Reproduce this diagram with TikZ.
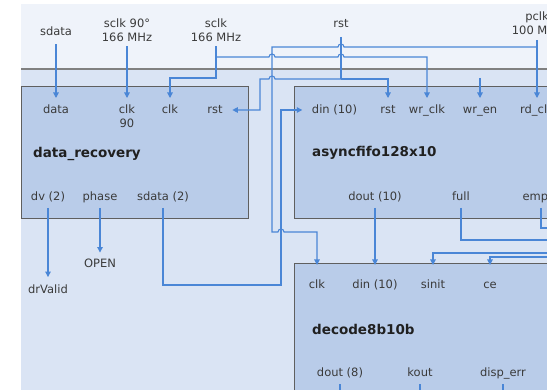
\documentclass[tikz,border=0pt]{standalone}
\usepackage{fontspec}
\setmainfont{DejaVu Sans}
\usetikzlibrary{arrows.meta}

\definecolor{wireblue}{HTML}{4A86D6}
\definecolor{blockfill}{HTML}{B9CCE9}
\definecolor{blockline}{HTML}{5F5F5F}
\definecolor{panelhi}{HTML}{EFF3FA}
\definecolor{panello}{HTML}{DAE4F4}
\definecolor{sepgray}{HTML}{808080}
\definecolor{labelgray}{HTML}{3A3A3A}
\definecolor{titlegray}{HTML}{202020}

\begin{document}
\begin{tikzpicture}[x=1pt,y=-1pt]
\tikzset{
  block/.style={draw=blockline,line width=1.4pt,fill=blockfill,anchor=north west,inner sep=0pt},
  portlbl/.style={font=\fontsize{11.5}{14}\selectfont,text=labelgray,inner sep=1.5pt},
  port/.style={portlbl,text height=9pt,text depth=2.5pt},
  blocktitle/.style={font=\fontsize{13.5}{16}\selectfont\bfseries,text=titlegray,anchor=base west,inner sep=0pt},
  wire/.style={draw=wireblue,line width=1.1pt},
  tip/.style={-{Triangle[length=5.5pt,width=5.5pt]}}
}
\useasboundingbox (0,0) rectangle (547,390);
\clip (0,0) rectangle (547,390);

% board background
\fill[panelhi] (21,4) rectangle (560,69);
\fill[panello] (21,69) rectangle (560,400);
\draw[sepgray,line width=1.4pt] (21,69) -- (560,69);

% blocks
\node[block,minimum width=227pt,minimum height=132pt] (dr) at (21,86) {};
\node[block,minimum width=280pt,minimum height=132pt] (ff) at (294,86) {};
\node[block,minimum width=280pt,minimum height=150pt] (dc) at (294,263) {};

\node[blocktitle] (t_dr) at (33,158) {data\_recovery};
\node[blocktitle] (t_ff) at (312,157) {asyncfifo128x10};
\node[blocktitle] (t_dc) at (312,335) {decode8b10b};

% board inputs
\node[port] (s_sdata) at (56,32) {sdata};
\node[portlbl,align=center,anchor=south] (s_sclkq) at (127,43.5) {sclk 90°\\166 MHz};
\node[portlbl,align=center,anchor=south] (s_sclk) at (216,43.5) {sclk\\166 MHz};
\node[port] (s_rst) at (341,24.5) {rst};
\node[portlbl,align=center,anchor=south] (s_pclk) at (537,36.5) {pclk\\100 MHz};

% data_recovery ports
\node[port,anchor=north] (dr_data) at (56,103) {data};
\node[portlbl,align=center,anchor=north] (dr_clkq) at (127,103) {clk\\90};
\node[port,anchor=north] (dr_clk) at (170,103) {clk};
\node[port] (dr_rst) at (215,110) {rst};
\node[port] (dr_dv) at (48,197.5) {dv (2)};
\node[port] (dr_phase) at (100,197.5) {phase};
\node[port] (dr_sdata) at (163,197.5) {sdata (2)};
\node[port] (o_open) at (100,264) {OPEN};
\node[port] (o_valid) at (48,290.5) {drValid};

% asyncfifo ports
\node[port] (ff_din) at (334.5,110) {din (10)};
\node[port,anchor=north] (ff_rst) at (388,103) {rst};
\node[port,anchor=north] (ff_wrclk) at (427,103) {wr\_clk};
\node[port,anchor=north] (ff_wren) at (480,103) {wr\_en};
\node[port,anchor=north] (ff_rdclk) at (537,103) {rd\_clk};
\node[port] (ff_dout) at (375,197.5) {dout (10)};
\node[port] (ff_full) at (461,197.5) {full};
\node[port] (ff_empty) at (541,197.5) {empty};

% decode8b10b ports
\node[port,anchor=north] (dc_clk) at (317,277.5) {clk};
\node[port,anchor=north] (dc_din) at (375,277.5) {din (10)};
\node[port,anchor=north] (dc_sinit) at (433,277.5) {sinit};
\node[port,anchor=north] (dc_ce) at (490,277.5) {ce};
\node[port] (dc_dout) at (340,373) {dout (8)};
\node[port] (dc_kout) at (420,373) {kout};
\node[port] (dc_disp) at (503,373) {disp\_err};

% junctions and loose ends
\coordinate (j_sclk) at (216,57);
\coordinate (j_pclk) at (537,47);
\coordinate (j_rst) at (341,79);
\coordinate (x_wren) at (480,78);
\coordinate (x_full) at (560,240);
\coordinate (x_empty) at (560,228);
\coordinate (x_sinit) at (560,253);
\coordinate (x_ce) at (560,257);
\coordinate (x_dout) at (340,400);
\coordinate (x_kout) at (420,400);
\coordinate (x_disp) at (503,400);

% clocks and data in
\draw[wire,tip,shorten <=5pt,shorten >=5pt] (s_sdata) -- (dr_data);
\draw[wire,tip,shorten <=3pt,shorten >=5pt] (s_sclkq) -- (dr_clkq);
\draw[wire,tip,shorten <=3pt,shorten >=5pt] (s_sclk) -- (216,78) -| (dr_clk);
\draw[wire,tip,shorten >=5pt] (j_sclk) -- (269,57) arc[start angle=180,end angle=360,radius=3]
  -- (338,57) arc[start angle=180,end angle=360,radius=3] -- (427,57) -- (ff_wrclk);
\draw[wire,tip,shorten <=4pt,shorten >=5pt] (s_pclk) -- (ff_rdclk);
\draw[wire,tip,shorten >=12.5pt] (j_pclk) -- (344,47) arc[start angle=0,end angle=-180,radius=3]
  -- (272,47) -- (272,232) -- (278,232) arc[start angle=180,end angle=360,radius=3] -- (317,232) -- (dc_clk);

% reset
\draw[wire,shorten <=5pt] (s_rst) -- (j_rst);
\draw[wire,tip,shorten >=5pt] (j_rst) -| (ff_rst);
\draw[wire,tip,shorten >=8pt] (j_rst) -- (275,79) arc[start angle=0,end angle=-180,radius=3]
  -- (260,79) |- (dr_rst);
\draw[wire,tip,shorten >=5pt] (x_wren) -- (ff_wren);

% data_recovery outputs
\draw[wire,tip,shorten <=3pt,shorten >=6pt] (dr_dv) -- (o_valid);
\draw[wire,tip,shorten <=3pt,shorten >=4pt] (dr_phase) -- (o_open);
\draw[wire,tip,shorten <=3pt,shorten >=8pt] (dr_sdata) |- (281,285) |- (ff_din);

% fifo to decoder
\draw[wire,tip,shorten <=3pt,shorten >=12.5pt] (ff_dout) -- (dc_din);
\draw[wire,shorten <=3pt] (ff_full) |- (x_full);
\draw[wire,shorten <=3pt] (ff_empty) |- (x_empty);
\draw[wire,tip,shorten >=12.5pt] (x_sinit) -| (dc_sinit);
\draw[wire,tip,shorten >=12.5pt] (x_ce) -| (dc_ce);

% decoder outputs
\draw[wire,shorten <=4pt] (dc_dout) -- (x_dout);
\draw[wire,shorten <=4pt] (dc_kout) -- (x_kout);
\draw[wire,shorten <=4pt] (dc_disp) -- (x_disp);
\end{tikzpicture}
\end{document}
